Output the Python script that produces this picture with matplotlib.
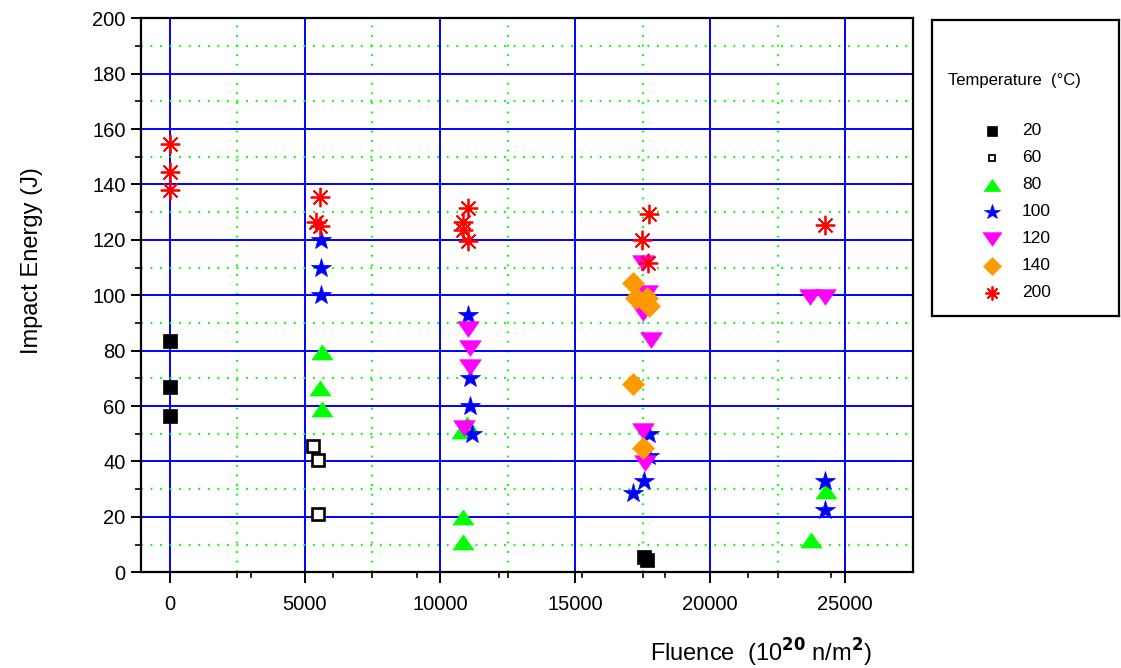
import matplotlib.pyplot as plt
from matplotlib.ticker import MultipleLocator, FixedLocator

plt.rcParams['font.family'] = ['Liberation Sans', 'DejaVu Sans']

# Charpy impact energy vs fluence, grouped by test temperature (C)
temps = ['20', '60', '80', '100', '120', '140', '200']

fl_20 = [0, 0, 0, 17550, 17650]
ie_20 = [83.5, 67, 56.5, 5.5, 4.5]

fl_60 = [5300, 5500, 5500]
ie_60 = [45.5, 40.5, 21]

fl_80 = [5620, 5560, 5620, 11000, 10800, 10850, 10850, 24300, 23750]
ie_80 = [79.5, 66.5, 59, 53.5, 51, 20, 11, 29.5, 11.5]

fl_100 = [5580, 5580, 5580, 11050, 11100, 11100, 11200, 17750, 17750, 17550, 17150, 24250, 24250]
ie_100 = [120, 110, 100, 93, 70, 60, 50, 50, 42, 33, 28.5, 33, 22.5]

fl_120 = [11050, 11100, 11100, 10900, 17500, 17650, 17500, 17800, 17500, 17600, 23700, 24250]
ie_120 = [88, 81, 74, 52, 111.5, 101, 93.5, 84, 51, 39.5, 99.5, 99.5]

fl_140 = [17150, 17270, 17650, 17750, 17150, 17530]
ie_140 = [104.5, 99, 99, 96, 68, 45]

fl_200 = [0, 0, 0, 5550, 5400, 5550, 11050, 10850, 10850, 11050, 17750, 17470, 17700, 24250]
ie_200 = [154.5, 144.5, 138, 135.5, 126.5, 125, 131.5, 126.5, 123.5, 119.5, 129.5, 120, 111.5, 125.5]

# flattened triangles, like the Origin symbols
tri_up = [(-1, -0.72), (1, -0.72), (0, 0.72), (-1, -0.72)]
tri_dn = [(-1, 0.72), (1, 0.72), (0, -0.72), (-1, 0.72)]
asterisk = (8, 2, 0)

# (x, y, marker, size, facecolor, edgecolor, edgewidth, legend size)
series = [
    (fl_20, ie_20, 's', 10, 'black', 'black', 0.5, 6.5),
    (fl_60, ie_60, 's', 8.5, 'white', 'black', 1.9, 5),
    (fl_80, ie_80, tri_up, 15, '#00ff00', '#00ff00', 0.5, 12),
    (fl_100, ie_100, '*', 14.5, '#0000ff', '#0000ff', 0.5, 11.5),
    (fl_120, ie_120, tri_dn, 15.5, '#ff00ff', '#ff00ff', 0.5, 13.5),
    (fl_140, ie_140, 'D', 11, '#ff9900', '#ff9900', 0.5, 9),
    (fl_200, ie_200, asterisk, 14, '#ff0000', '#ff0000', 1.3, 10),
]

fig = plt.figure(figsize=(11.21, 6.68), dpi=100)
ax = fig.add_axes([141 / 1121, 1 - 572.3 / 668, (912.7 - 141) / 1121, (572.3 - 18.3) / 668])

for x, y, m, ms, fc, ec, mew, _ in series:
    ax.plot(x, y, linestyle='none', marker=m, markersize=ms, markerfacecolor=fc,
            markeredgecolor=ec, markeredgewidth=mew, zorder=3, clip_on=False)

ax.set_xlim(-1070, 27500)
ax.set_ylim(0, 200)

ax.xaxis.set_major_locator(MultipleLocator(5000))
ax.yaxis.set_major_locator(MultipleLocator(20))
ax.xaxis.set_minor_locator(FixedLocator([2500, 7500, 12500, 17500, 22500]))
ax.yaxis.set_minor_locator(MultipleLocator(10))

# the odd extra ticks from the original plot
for xt in [3000, 6050, 9130, 12180, 15250, 18330, 21420, 24460]:
    ax.plot([xt, xt], [0, -1.7], color='black', lw=1.2, clip_on=False, zorder=4)

ax.grid(True, which='major', color='#0000ff', linewidth=1.4, zorder=1)
ax.grid(True, which='minor', color='#00ff00', linewidth=1.6, linestyle=(0, (0.8, 3.5)), zorder=1)
ax.set_axisbelow(True)

for s in ax.spines.values():
    s.set_linewidth(1.6)
    s.set_color('black')

ax.tick_params(which='major', direction='out', length=7, width=1.4, labelsize=14.5, pad=4)
ax.tick_params(which='minor', direction='out', length=4, width=1.2)
ax.tick_params(axis='x', which='major', length=8, pad=8)

fig.text(32 / 1121, 1 - 261 / 668, 'Impact Energy (J)', rotation=90, fontsize=17,
         ha='center', va='center')
fig.text(761 / 1121, 1 - 653 / 668, 'Fluence  (10$^{\\mathbf{20}}$ n/m$^{\\mathbf{2}}$)',
         fontsize=17, ha='center', va='center')

# legend box drawn by hand, in pixel units
lx0, ly0, lx1, ly1 = 932, 20, 1119, 316
lax = fig.add_axes([lx0 / 1121, 1 - ly1 / 668, (lx1 - lx0) / 1121, (ly1 - ly0) / 668])
lax.set_xlim(0, lx1 - lx0)
lax.set_ylim(ly1 - ly0, 0)
lax.set_xticks([])
lax.set_yticks([])
for s in lax.spines.values():
    s.set_linewidth(1.6)

lax.text(16, 60, 'Temperature  (°C)', fontsize=12, ha='left', va='center')
for i, (t, ser) in enumerate(zip(temps, series)):
    _, _, m, _, fc, ec, mew, lms = ser
    yy = 110.7 + 27 * i
    lax.plot([60], [yy], linestyle='none', marker=m, markersize=lms, markerfacecolor=fc,
             markeredgecolor=ec, markeredgewidth=min(mew, 1.3))
    lax.text(90, yy, t, fontsize=12.5, ha='left', va='center')

fig.savefig('out.png', dpi=100)
